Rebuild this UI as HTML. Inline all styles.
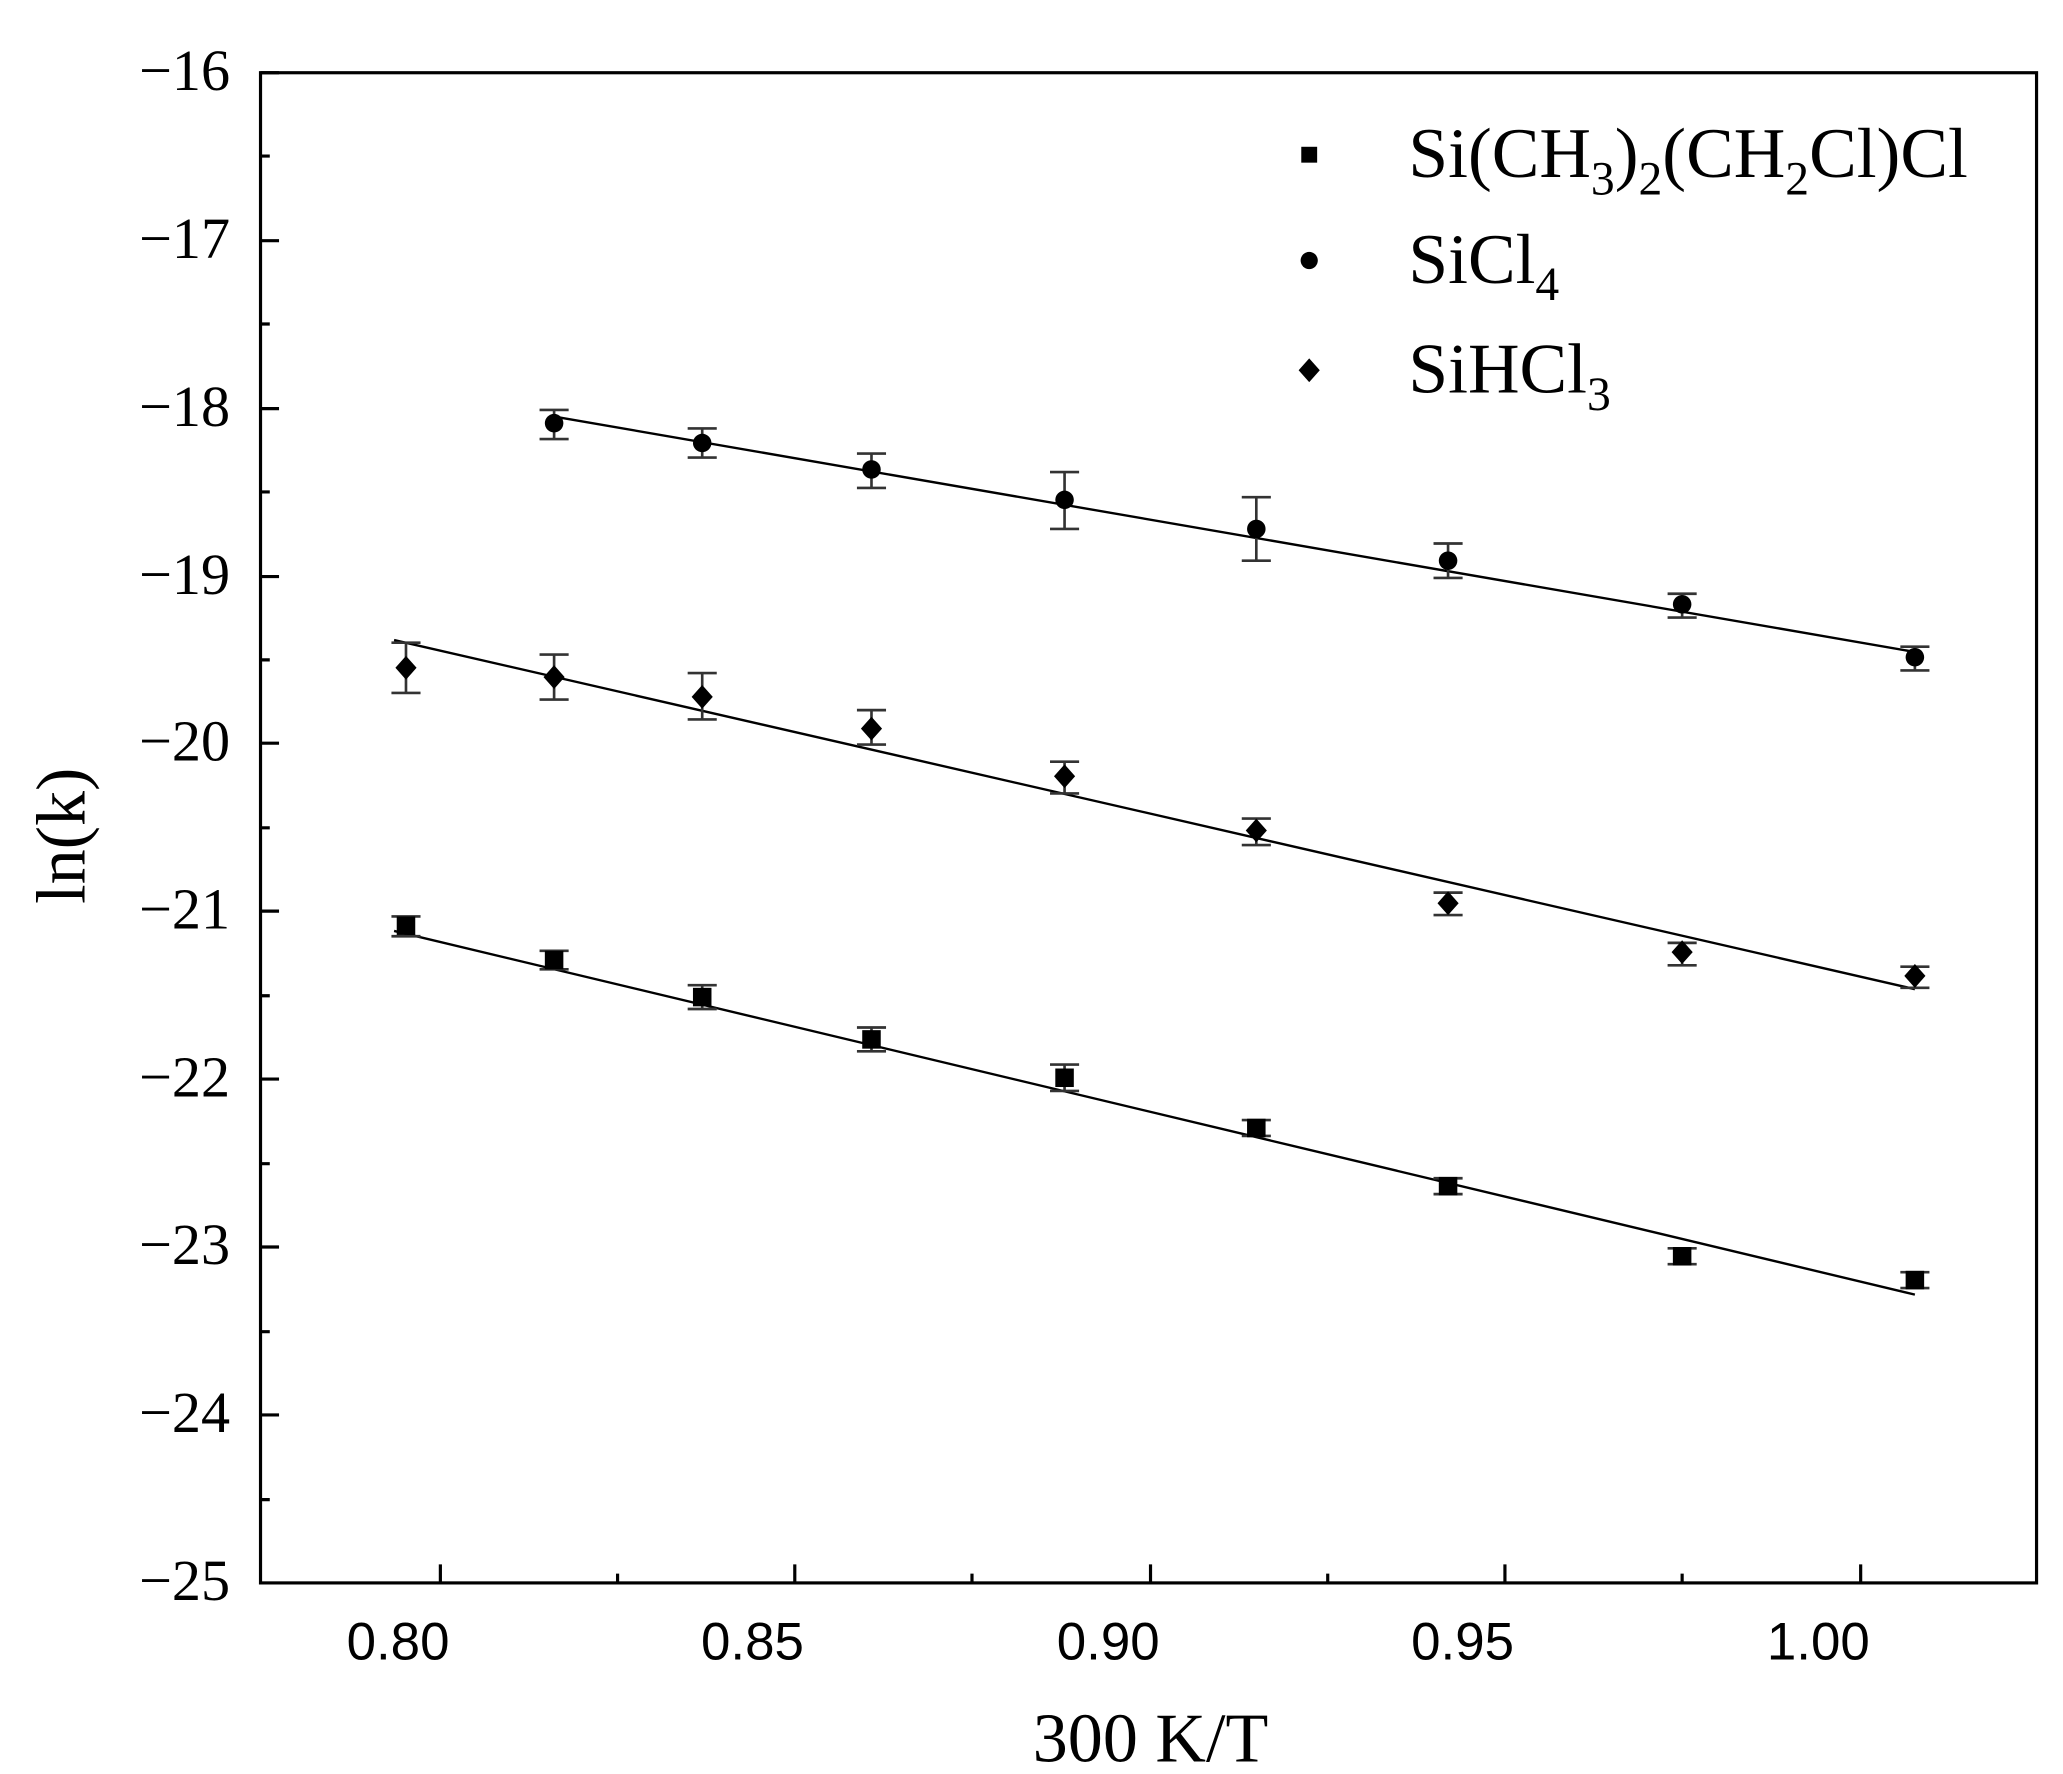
<!DOCTYPE html>
<html><head><meta charset="utf-8"><style>html,body{margin:0;padding:0;background:#fff}svg{display:block}</style></head>
<body>
<svg width="2063" height="1774" viewBox="0 0 1560 1341.5" preserveAspectRatio="none" xmlns="http://www.w3.org/2000/svg">
<rect width="1560" height="1341.5" fill="#fff"/>
<g stroke="#000" stroke-width="2.4" fill="none">
<rect x="197" y="55" width="1343" height="1142"/>
<path d="M197 55h14M197 182h14M197 309h14M197 436h14M197 562h14M197 689h14M197 816h14M197 943h14M197 1070h14
M197 118h7M197 245h7M197 372h7M197 499h7M197 626h7M197 753h7M197 880h7M197 1007h7M197 1134h7"/>
<path d="M333 1197v-14M601 1197v-14M870 1197v-14M1138 1197v-14M1407 1197v-14
M467 1197v-7M735 1197v-7M1004 1197v-7M1272 1197v-7"/>
</g>
<g font-family="Liberation Serif, serif" font-size="44" text-anchor="end" fill="#000">
<text x="174" y="68">−16</text><text x="174" y="195">−17</text><text x="174" y="322">−18</text>
<text x="174" y="449">−19</text><text x="174" y="575">−20</text><text x="174" y="702">−21</text>
<text x="174" y="829">−22</text><text x="174" y="956">−23</text><text x="174" y="1083">−24</text>
<text x="174" y="1210">−25</text>
</g>
<g font-family="Liberation Sans, sans-serif" font-size="40" text-anchor="middle" fill="#000">
<text x="301" y="1255">0.80</text><text x="569" y="1255">0.85</text><text x="838" y="1255">0.90</text>
<text x="1106" y="1255">0.95</text><text x="1375" y="1255">1.00</text>
</g>
<text x="870" y="1332" font-family="Liberation Serif, serif" font-size="53" text-anchor="middle">300 K/T</text>
<text transform="translate(64,632) rotate(-90)" font-family="Liberation Serif, serif" font-size="53" text-anchor="middle">ln(k)</text>
<g stroke="#000" stroke-width="1.8">
<line x1="419" y1="315" x2="1448" y2="493"/>
<line x1="298" y1="484" x2="1448" y2="748"/>
<line x1="298" y1="704" x2="1448" y2="979"/>
</g>
<g stroke="#333" stroke-width="2" fill="none">
<path d="M419 310v22M408 310h22M408 332h22"/>
<path d="M531 324v22M520 324h22M520 346h22"/>
<path d="M659 343v26M648 343h22M648 369h22"/>
<path d="M805 357v43M794 357h22M794 400h22"/>
<path d="M950 376v48M939 376h22M939 424h22"/>
<path d="M1095 411v26M1084 411h22M1084 437h22"/>
<path d="M1272 449v18M1261 449h22M1261 467h22"/>
<path d="M1448 489v18M1437 489h22M1437 507h22"/>
<path d="M307 486v38M296 486h22M296 524h22"/>
<path d="M419 495v34M408 495h22M408 529h22"/>
<path d="M531 509v35M520 509h22M520 544h22"/>
<path d="M659 537v26M648 537h22M648 563h22"/>
<path d="M805 576v24M794 576h22M794 600h22"/>
<path d="M950 619v20M939 619h22M939 639h22"/>
<path d="M1095 675v17M1084 675h22M1084 692h22"/>
<path d="M1272 713v17M1261 713h22M1261 730h22"/>
<path d="M1448 731v16M1437 731h22M1437 747h22"/>
<path d="M307 693v15M296 693h22M296 708h22"/>
<path d="M419 719v14M408 719h22M408 733h22"/>
<path d="M531 745v18M520 745h22M520 763h22"/>
<path d="M659 777v18M648 777h22M648 795h22"/>
<path d="M805 805v20M794 805h22M794 825h22"/>
<path d="M950 847v12M939 847h22M939 859h22"/>
<path d="M1095 891v12M1084 891h22M1084 903h22"/>
<path d="M1272 944v12M1261 944h22M1261 956h22"/>
<path d="M1448 962v12M1437 962h22M1437 974h22"/>
</g>
<g fill="#000">
<circle cx="419" cy="320" r="7"/><circle cx="531" cy="335" r="7"/><circle cx="659" cy="355" r="7"/>
<circle cx="805" cy="378" r="7"/><circle cx="950" cy="400" r="7"/><circle cx="1095" cy="424" r="7"/>
<circle cx="1272" cy="457" r="7"/><circle cx="1448" cy="497" r="7"/>
<path d="M307 496l8 9-8 9-8-9z"/><path d="M419 503l8 9-8 9-8-9z"/><path d="M531 518l8 9-8 9-8-9z"/>
<path d="M659 542l8 9-8 9-8-9z"/><path d="M805 578l8 9-8 9-8-9z"/><path d="M950 619l8 9-8 9-8-9z"/>
<path d="M1095 674l8 9-8 9-8-9z"/><path d="M1272 711l8 9-8 9-8-9z"/><path d="M1448 729l8 9-8 9-8-9z"/>
<rect x="300" y="693" width="14" height="14"/><rect x="412" y="719" width="14" height="14"/>
<rect x="524" y="747" width="14" height="14"/><rect x="652" y="779" width="14" height="14"/>
<rect x="798" y="808" width="14" height="14"/><rect x="943" y="846" width="14" height="14"/>
<rect x="1088" y="890" width="14" height="14"/><rect x="1265" y="943" width="14" height="14"/>
<rect x="1441" y="961" width="14" height="14"/>
<rect x="984" y="111" width="12" height="12"/>
<circle cx="990" cy="197" r="6.5"/>
<path d="M990 271l8 9-8 9-8-9z"/>
</g>
<g font-family="Liberation Serif, serif" font-size="54" fill="#000">
<text x="1065" y="134">Si(CH<tspan font-size="36" dy="13">3</tspan><tspan dy="-13">)</tspan><tspan font-size="36" dy="13">2</tspan><tspan dy="-13">(CH</tspan><tspan font-size="36" dy="13">2</tspan><tspan dy="-13">Cl)Cl</tspan></text>
<text x="1065" y="214">SiCl<tspan font-size="36" dy="13">4</tspan></text>
<text x="1065" y="297">SiHCl<tspan font-size="36" dy="13">3</tspan></text>
</g>
</svg>
</body></html>
